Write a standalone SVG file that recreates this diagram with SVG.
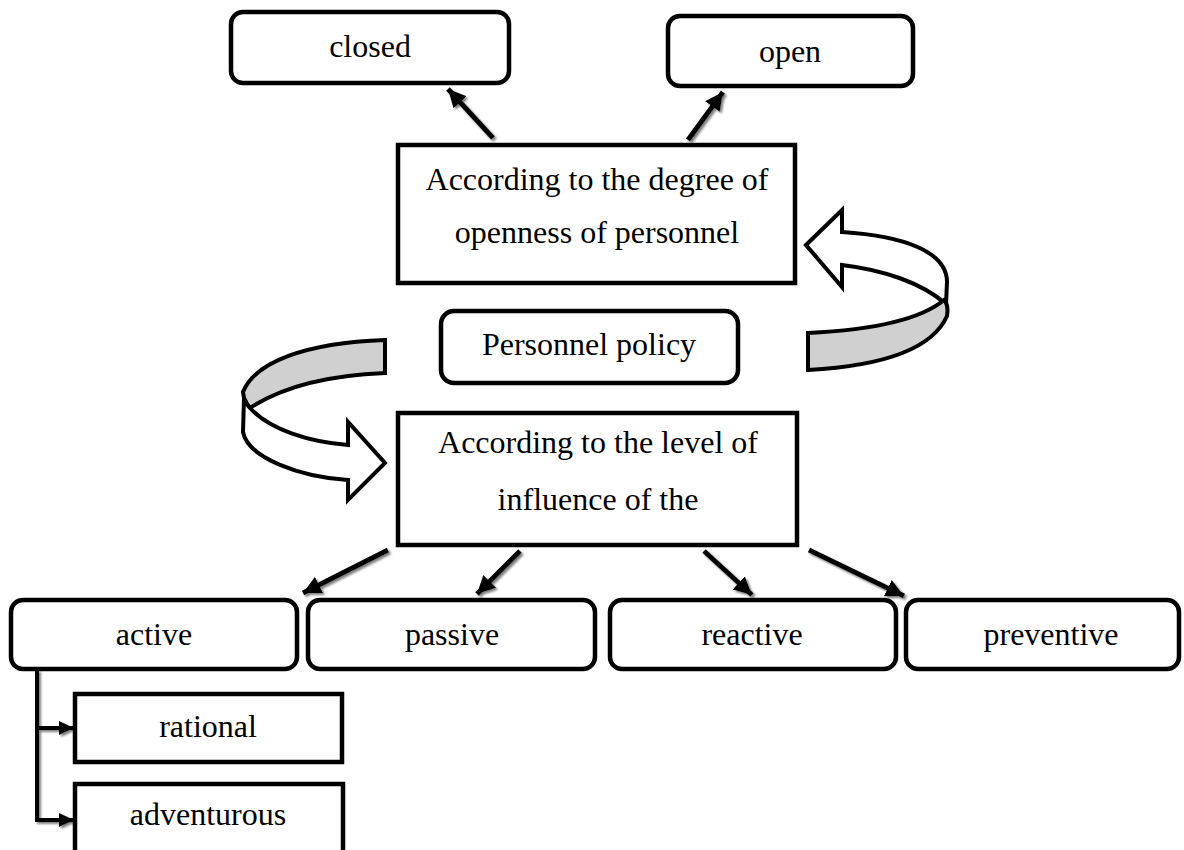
<svg xmlns="http://www.w3.org/2000/svg" width="1184" height="850" viewBox="0 0 1184 850">
<style>
.rbox{fill:#fff;stroke:#000;stroke-width:4.5}
.sbox{fill:#fff;stroke:#000;stroke-width:4.5}
.t{font-family:"Liberation Serif","Times New Roman",serif;font-size:32px;fill:#000;text-anchor:middle}
.con{stroke:#000;stroke-width:5;fill:none;marker-end:url(#ah)}
.con2{stroke:#000;stroke-width:4;fill:none;marker-end:url(#ah2)}
.ribbon{fill:#fff;stroke:#000;stroke-width:4;stroke-linejoin:miter}
.band{fill:#d0d0d0;stroke:#000;stroke-width:4}
</style>
<defs>
<marker id="ah" markerUnits="userSpaceOnUse" markerWidth="22" markerHeight="22" refX="18" refY="9" orient="auto">
<path d="M0,0 L18,9 L0,18 Z" fill="#000"/>
</marker>
<marker id="ah2" markerUnits="userSpaceOnUse" markerWidth="18" markerHeight="16" refX="15" refY="7" orient="auto">
<path d="M0,0 L15,7 L0,14 Z" fill="#000"/>
</marker>
<filter id="sh" x="-20%" y="-20%" width="140%" height="140%">
<feDropShadow dx="2" dy="2" stdDeviation="1" flood-color="#808080"/>
</filter>
</defs>
<rect width="1184" height="850" fill="#fff"/>

<g id="connectors" filter="url(#sh)">
<line class="con" x1="493" y1="138" x2="448" y2="89"/>
<line class="con" x1="688" y1="140" x2="723" y2="92"/>
<line class="con" x1="388" y1="550" x2="303" y2="593"/>
<line class="con" x1="520" y1="551" x2="477" y2="594"/>
<line class="con" x1="704" y1="551" x2="752" y2="595"/>
<line class="con" x1="809" y1="550" x2="904" y2="596"/>
<polyline class="con2" points="37,670 37,728 74,728"/>
<polyline class="con2" points="37,728 37,820 74,820"/>
</g>

<g id="arrow-right">
<path class="ribbon" d="M806,245 L842,210 L842,232 C905,236 947,252 947,282 L946,304 C922,283 884,270 842,265 L842,287 Z"/>
<path class="band" d="M808,333 C870,330 920,320 944,300 C948,304 948,310 947,316 C932,350 880,366 808,370 Z"/>
</g>

<g id="arrow-left">
<path class="band" d="M385,340 C305,343 255,362 243,392 L244,398 C246,403 248,406 250,408 C285,385 335,375 385,373 Z"/>
<path class="ribbon" d="M244,398 C246,403 248,406 250,408 C270,430 310,442 348,445 L348,422 L385,463 L348,500 L348,480 C300,477 248,458 243,432 Z"/>
</g>

<g id="node-closed">
<rect class="rbox" x="231" y="12" width="278" height="71" rx="12"/>
<text class="t" x="370" y="57">closed</text>
</g>
<g id="node-open">
<rect class="rbox" x="668" y="16" width="245" height="70" rx="12"/>
<text class="t" x="790" y="62">open</text>
</g>
<g id="node-openness">
<rect class="sbox" x="398" y="145" width="397" height="138"/>
<text class="t" x="597" y="190">According to the degree of</text>
<text class="t" x="597" y="243">openness of personnel</text>
</g>
<g id="node-policy">
<rect class="rbox" x="441" y="311" width="297" height="72" rx="13"/>
<text class="t" x="589" y="355">Personnel policy</text>
</g>
<g id="node-influence">
<rect class="sbox" x="398" y="413" width="399" height="132"/>
<text class="t" x="598" y="453">According to the level of</text>
<text class="t" x="598" y="510">influence of the</text>
</g>
<g id="node-active">
<rect class="rbox" x="11" y="600" width="286" height="69" rx="12"/>
<text class="t" x="154" y="645">active</text>
</g>
<g id="node-passive">
<rect class="rbox" x="308" y="600" width="287" height="69" rx="12"/>
<text class="t" x="452" y="645">passive</text>
</g>
<g id="node-reactive">
<rect class="rbox" x="610" y="600" width="286" height="69" rx="12"/>
<text class="t" x="752" y="645">reactive</text>
</g>
<g id="node-preventive">
<rect class="rbox" x="906" y="600" width="273" height="69" rx="12"/>
<text class="t" x="1051" y="645">preventive</text>
</g>
<g id="node-rational">
<rect class="sbox" x="75" y="694" width="267" height="68"/>
<text class="t" x="208" y="737">rational</text>
</g>
<g id="node-adventurous">
<rect class="sbox" x="75" y="784" width="268" height="80"/>
<text class="t" x="208" y="825">adventurous</text>
</g>
</svg>
